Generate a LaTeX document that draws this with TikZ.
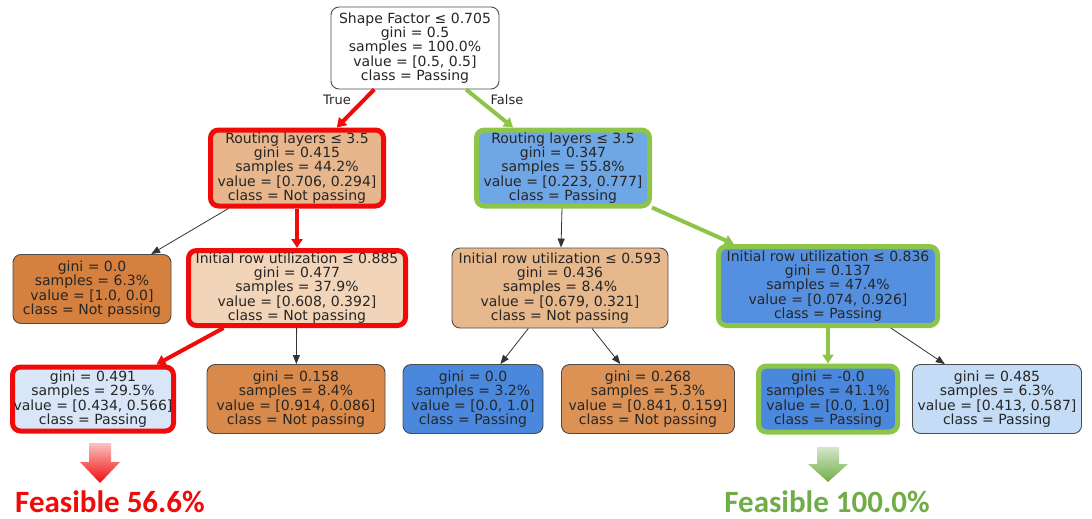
\documentclass[tikz,border=0pt]{standalone}
\usepackage{fontspec}
\setmainfont{DejaVu Sans}
\newfontfamily\feasfont{Carlito}
\usetikzlibrary{arrows.meta}

\definecolor{orgfull}{RGB}{213,128,62}
\definecolor{orgrl}{RGB}{232,182,140}
\definecolor{orgia}{RGB}{242,212,184}
\definecolor{orgib}{RGB}{231,184,140}
\definecolor{orgla}{RGB}{217,138,74}
\definecolor{orglb}{RGB}{221,146,85}
\definecolor{blurr}{RGB}{111,166,230}
\definecolor{bluic}{RGB}{85,144,224}
\definecolor{blufull}{RGB}{74,136,222}
\definecolor{blula}{RGB}{216,230,248}
\definecolor{blulb}{RGB}{196,220,245}
\definecolor{pathred}{RGB}{240,10,10}
\definecolor{pathgreen}{RGB}{141,197,73}
\definecolor{feasgreen}{RGB}{112,173,71}

\begin{document}
\begin{tikzpicture}[x=1pt, y=-1pt,
    treenode/.style={draw=black!70, line width=0.9pt, rounded corners=8pt, align=center,
        inner sep=0pt, text=black!85, font=\fontsize{14}{14.3}\selectfont, minimum height=81},
    leafnode/.style={treenode, minimum height=69},
    redpick/.style={draw=pathred, line width=5pt},
    greenpick/.style={draw=pathgreen, line width=5pt},
    edge/.style={draw=black!80, line width=0.8pt, -{Triangle[length=9pt,width=7pt]}},
    rededge/.style={draw=pathred, line width=4pt, -{Triangle[length=9pt,width=11pt]}},
    greenedge/.style={draw=pathgreen, line width=4pt, -{Triangle[length=9pt,width=11pt]}},
    feasible/.style={font=\feasfont\bfseries\fontsize{31}{34}\selectfont}]

    % Fix the page size
    \useasboundingbox (0,0) rectangle (1092,519);

    % Root
    \node[treenode, fill=white, minimum width=168, minimum height=82] (root) at (415,48)
        {Shape Factor ≤ 0.705\\gini = 0.5\\samples = 100.0\%\\value = [0.5, 0.5]\\class = Passing};

    % Second level
    \node[treenode, redpick, fill=orgrl, minimum width=173, minimum height=76] (rl) at (297,168)
        {Routing layers ≤ 3.5\\gini = 0.415\\samples = 44.2\%\\value = [0.706, 0.294]\\class = Not passing};
    \node[treenode, greenpick, fill=blurr, minimum width=173, minimum height=76] (rr) at (563,168)
        {Routing layers ≤ 3.5\\gini = 0.347\\samples = 55.8\%\\value = [0.223, 0.777]\\class = Passing};

    % Third level
    \node[leafnode, fill=orgfull, minimum width=158] (la) at (92,289)
        {gini = 0.0\\samples = 6.3\%\\value = [1.0, 0.0]\\class = Not passing};
    \node[treenode, redpick, fill=orgia, minimum width=217, minimum height=75] (ia) at (297,288)
        {Initial row utilization ≤ 0.885\\gini = 0.477\\samples = 37.9\%\\value = [0.608, 0.392]\\class = Not passing};
    \node[treenode, fill=orgib, minimum width=216, minimum height=80] (ib) at (560,288)
        {Initial row utilization ≤ 0.593\\gini = 0.436\\samples = 8.4\%\\value = [0.679, 0.321]\\class = Not passing};
    \node[treenode, greenpick, fill=bluic, minimum width=219, minimum height=79] (ic) at (828,286)
        {Initial row utilization ≤ 0.836\\gini = 0.137\\samples = 47.4\%\\value = [0.074, 0.926]\\class = Passing};

    % Leaves
    \node[leafnode, redpick, fill=blula, minimum width=161, minimum height=64] (lb) at (93,399)
        {gini = 0.491\\samples = 29.5\%\\value = [0.434, 0.566]\\class = Passing};
    \node[leafnode, fill=orgla, minimum width=178] (lc) at (296,399)
        {gini = 0.158\\samples = 8.4\%\\value = [0.914, 0.086]\\class = Not passing};
    \node[leafnode, fill=blufull, minimum width=140] (ld) at (473,399)
        {gini = 0.0\\samples = 3.2\%\\value = [0.0, 1.0]\\class = Passing};
    \node[leafnode, fill=orglb, minimum width=173] (le) at (648,399)
        {gini = 0.268\\samples = 5.3\%\\value = [0.841, 0.159]\\class = Not passing};
    \node[leafnode, greenpick, fill=blufull, minimum width=139, minimum height=66] (lf) at (828,399)
        {gini = -0.0\\samples = 41.1\%\\value = [0.0, 1.0]\\class = Passing};
    \node[leafnode, fill=blulb, minimum width=169] (lg) at (997,399)
        {gini = 0.485\\samples = 6.3\%\\value = [0.413, 0.587]\\class = Passing};

    % Edges
    \draw[rededge] (root) -- (rl);
    \draw[greenedge] (root) -- (rr);
    \draw[edge] (rl) -- (la);
    \draw[rededge] (rl) -- (ia);
    \draw[edge] (rr) -- (ib);
    \draw[greenedge] (rr) -- (ic);
    \draw[rededge] (ia) -- (lb);
    \draw[edge] (ia) -- (lc);
    \draw[edge] (ib) -- (ld);
    \draw[edge] (ib) -- (le);
    \draw[greenedge] (ic) -- (lf);
    \draw[edge] (ic) -- (lg);

    % Edge labels
    \node[text=black!85, font=\fontsize{13}{14}\selectfont] (truelbl) at (337,100) {True};
    \node[text=black!85, font=\fontsize{13}{14}\selectfont] (falselbl) at (507,100) {False};

    % Block arrows
    \shade[top color=pathred!25, bottom color=pathred] (89,443) -- (111,443) -- (111,462)
        -- (120,462) -- (100,483) -- (80,462) -- (89,462) -- cycle;
    \shade[top color=feasgreen!30, bottom color=feasgreen] (817,447) -- (839,447) -- (839,464)
        -- (848,464) -- (828,482) -- (808,464) -- (817,464) -- cycle;

    % Results
    \node[feasible, text=pathred] (feasred) at (110,502) {Feasible 56.6\%};
    \node[feasible, text=feasgreen] (feasgrn) at (827,502) {Feasible 100.0\%};

\end{tikzpicture}
\end{document}
